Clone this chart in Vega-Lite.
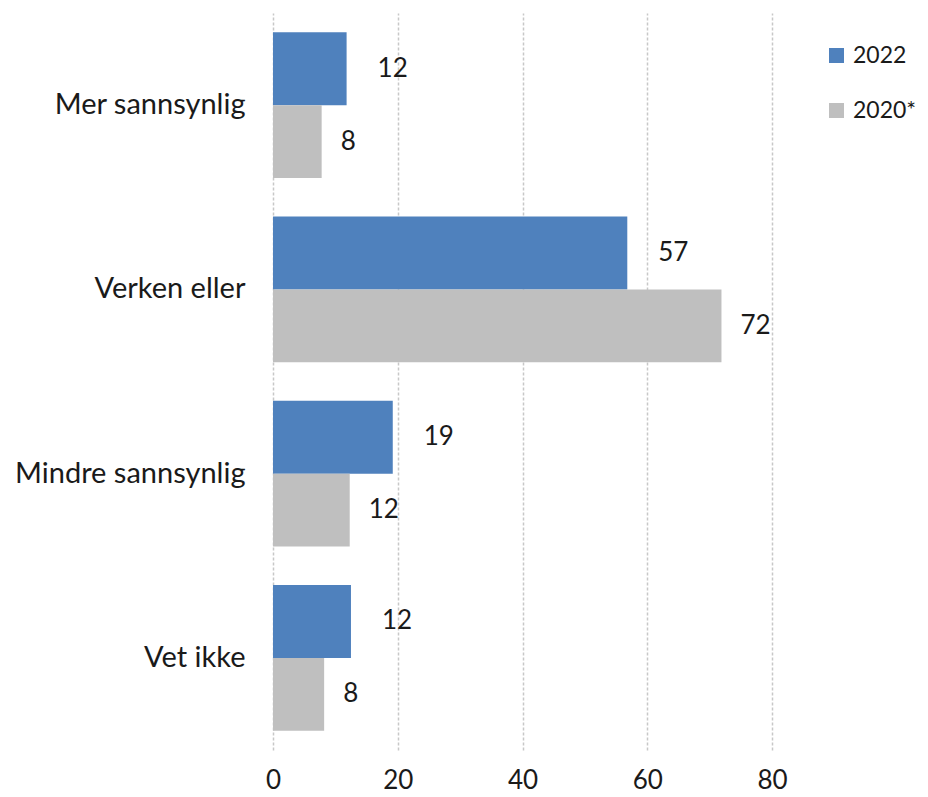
{
  "$schema": "https://vega.github.io/schema/vega-lite/v6.json",
  "autosize": "none",
  "padding": {"left": 273, "top": 13, "right": 156, "bottom": 47},
  "width": 499,
  "height": 737,
  "background": "white",
  "config": {
    "font": "Lato",
    "view": {"stroke": null}
  },
  "data": {
    "values": [
      {"kategori": "Mer sannsynlig", "serie": "2022", "verdi": 11.8, "etikett": "12"},
      {"kategori": "Mer sannsynlig", "serie": "2020*", "verdi": 7.8, "etikett": "8"},
      {"kategori": "Verken eller", "serie": "2022", "verdi": 56.8, "etikett": "57"},
      {"kategori": "Verken eller", "serie": "2020*", "verdi": 71.9, "etikett": "72"},
      {"kategori": "Mindre sannsynlig", "serie": "2022", "verdi": 19.2, "etikett": "19"},
      {"kategori": "Mindre sannsynlig", "serie": "2020*", "verdi": 12.3, "etikett": "12"},
      {"kategori": "Vet ikke", "serie": "2022", "verdi": 12.5, "etikett": "12"},
      {"kategori": "Vet ikke", "serie": "2020*", "verdi": 8.2, "etikett": "8"}
    ]
  },
  "encoding": {
    "y": {
      "field": "kategori",
      "type": "nominal",
      "sort": ["Mer sannsynlig", "Verken eller", "Mindre sannsynlig", "Vet ikke"],
      "scale": {"paddingInner": 0.21, "paddingOuter": 0.105},
      "axis": {"title": null, "domain": false, "ticks": false, "labelPadding": 28, "labelFontSize": 29, "labelColor": "#1a1a1a", "labelFont": "Lato", "labelLimit": 300}
    },
    "yOffset": {"field": "serie", "type": "nominal", "sort": ["2022", "2020*"], "scale": {"paddingInner": 0, "paddingOuter": 0}},
    "x": {
      "field": "verdi",
      "type": "quantitative",
      "scale": {"domain": [0, 80], "nice": false},
      "axis": {"title": null, "values": [0, 20, 40, 60, 80], "domain": false, "ticks": false, "labelPadding": 17, "labelFontSize": 26, "labelColor": "#1a1a1a", "gridColor": "#c8c8c8", "gridDash": [3, 2], "gridWidth": 1.5, "labelFlush": false}
    }
  },
  "layer": [
    {
      "mark": {"type": "bar"},
      "encoding": {
        "color": {
          "field": "serie",
          "type": "nominal",
          "sort": ["2022", "2020*"],
          "scale": {"domain": ["2022", "2020*"], "range": ["#4F81BD", "#BFBFBF"]},
          "legend": {"title": null, "orient": "none", "legendX": 552, "legendY": 31, "symbolType": "square", "symbolSize": 225, "labelFontSize": 23, "labelColor": "#1a1a1a", "rowPadding": 31, "labelOffset": 5, "symbolStrokeWidth": 0, "labelLimit": 200}
        }
      }
    },
    {
      "transform": [{"filter": "datum.serie == '2022'"}],
      "mark": {"type": "text", "align": "left", "baseline": "middle", "dx": 31, "fontSize": 26, "color": "#1a1a1a"},
      "encoding": {"text": {"field": "etikett"}}
    },
    {
      "transform": [{"filter": "datum.serie == '2020*'"}],
      "mark": {"type": "text", "align": "left", "baseline": "middle", "dx": 19, "fontSize": 26, "color": "#1a1a1a"},
      "encoding": {"text": {"field": "etikett"}}
    }
  ]
}
